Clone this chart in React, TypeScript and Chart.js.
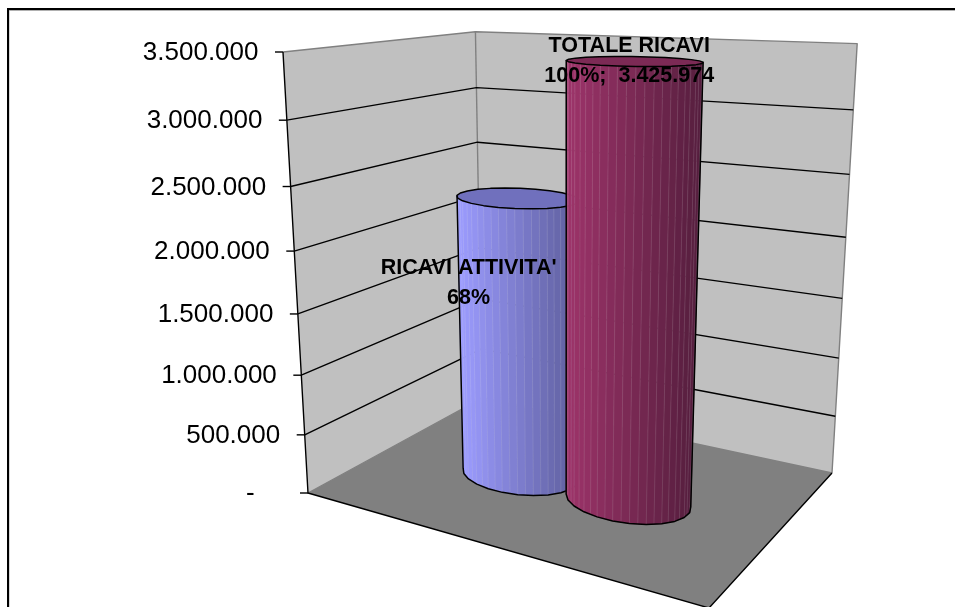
import React, { useEffect, useRef } from "react";
import { Chart, registerables } from "chart.js";

Chart.register(...registerables);

// Values
const categories = [""];
const seriesNames = ["RICAVI ATTIVITA'", "TOTALE RICAVI"];
const ricaviAttivita = [2329662];
const totaleRicavi = [3425974];
const percentLabels = ["68%", "100%"];
const valueLabels = ["", "3.425.974"];
// The zero label carries the accounting format's trailing padding
const tickLabels = ["-    ", "500.000", "1.000.000", "1.500.000", "2.000.000", "2.500.000", "3.000.000", "3.500.000"];
const axisMax = 3500000;
const axisStep = 500000;

// Screen outline of the floor and the direction in which verticals converge
const FRONT_LEFT = [308, 493];
const FRONT_RIGHT = [709, 608];
const BACK_RIGHT = [832, 473];
const BACK_LEFT = [482, 398];
const FRONT_LEFT_TOP = [283, 52];
const VERTICAL_VP = [565, 5024];

const FONT = '"Liberation Sans", Arial, sans-serif';
const CYLINDER_SIDES = 24;
const FACET_STRIPS = 2;
const DEPTH_CENTRE = 0.472;
const WIDTH_SHIFT = 0.0085;

const shades = [
  { light: [156, 156, 255], dark: [92, 92, 153], top: "#7070bd" },
  { light: [158, 52, 106], dark: [86, 30, 62], top: "#7c2a55" },
];
const labelOffsets = [
  { dx: -49, dy: 85 },
  { dx: -4.5, dy: 0 },
];

// Homography of the unit floor square, extended with a height column
function buildProjection() {
  const [x0, y0] = FRONT_LEFT;
  const [x1, y1] = FRONT_RIGHT;
  const [x2, y2] = BACK_RIGHT;
  const [x3, y3] = BACK_LEFT;
  const dx1 = x1 - x2, dx2 = x3 - x2, sx = x0 - x1 + x2 - x3;
  const dy1 = y1 - y2, dy2 = y3 - y2, sy = y0 - y1 + y2 - y3;
  const den = dx1 * dy2 - dx2 * dy1;
  const g = (sx * dy2 - dx2 * sy) / den;
  const h = (dx1 * sy - sx * dy1) / den;
  const a = x1 - x0 + g * x1, b = x3 - x0 + h * x3, c = x0;
  const d = y1 - y0 + g * y1, e = y3 - y0 + h * y3, f = y0;
  const k = (FRONT_LEFT_TOP[1] - y0) / (VERTICAL_VP[1] - FRONT_LEFT_TOP[1]);
  return (u: number, v: number, z: number) => {
    const w = g * u + h * v + 1 + z * k;
    return [
      (a * u + b * v + c + z * k * VERTICAL_VP[0]) / w,
      (d * u + e * v + f + z * k * VERTICAL_VP[1]) / w,
    ];
  };
}
const project = buildProjection();

function polygon(ctx: CanvasRenderingContext2D, pts: number[][], close = true) {
  ctx.beginPath();
  pts.forEach((p, i) => (i ? ctx.lineTo(p[0], p[1]) : ctx.moveTo(p[0], p[1])));
  if (close) ctx.closePath();
}

function drawFrame(ctx: CanvasRenderingContext2D, width: number, height: number) {
  ctx.strokeStyle = "#b0b0b0";
  ctx.lineWidth = 1;
  polygon(ctx, [[9, height], [9, 10.5], [width, 10.5]], false);
  ctx.stroke();
  ctx.strokeStyle = "#000";
  ctx.lineWidth = 2;
  polygon(ctx, [[8, height], [8, 9], [width, 9]], false);
  ctx.stroke();
}

function drawBox(ctx: CanvasRenderingContext2D, ticks: { value: number }[]) {
  const p = project;
  ctx.lineJoin = "round";
  ctx.fillStyle = "#c0c0c0";
  polygon(ctx, [p(0, 0, 0), p(0, 1, 0), p(0, 1, 1), p(0, 0, 1)]);
  ctx.fill();
  polygon(ctx, [p(0, 1, 0), p(1, 1, 0), p(1, 1, 1), p(0, 1, 1)]);
  ctx.fill();
  ctx.fillStyle = "#808080";
  polygon(ctx, [p(0, 0, 0), p(1, 0, 0), p(1, 1, 0), p(0, 1, 0)]);
  ctx.fill();

  // Grey wall edges
  ctx.strokeStyle = "#808080";
  ctx.lineWidth = 1.4;
  polygon(ctx, [p(0, 0, 1), p(0, 1, 1), p(1, 1, 1), p(1, 1, 0)], false);
  ctx.stroke();
  polygon(ctx, [p(0, 1, 0), p(0, 1, 1)], false);
  ctx.stroke();
  polygon(ctx, [p(0, 0, 0), p(0, 1, 0), p(1, 1, 0)], false);
  ctx.stroke();

  // Gridlines run along both walls
  ctx.strokeStyle = "#000";
  ctx.lineWidth = 1.4;
  ticks.forEach((t) => {
    const z = t.value / axisMax;
    if (z <= 0 || z >= 1) return;
    polygon(ctx, [p(0, 0, z), p(0, 1, z), p(1, 1, z)], false);
    ctx.stroke();
  });

  // Value axis, its tick marks and the front floor edges
  polygon(ctx, [p(0, 0, 1), p(0, 0, 0), p(1, 0, 0), p(1, 1, 0)], false);
  ctx.stroke();
  ticks.forEach((t) => {
    const [x, y] = p(0, 0, t.value / axisMax);
    polygon(ctx, [[x - 8, y], [x, y]], false);
    ctx.stroke();
  });
}

function drawTickLabels(ctx: CanvasRenderingContext2D, ticks: { value: number; label: string }[]) {
  ctx.fillStyle = "#000";
  ctx.font = `26px ${FONT}`;
  ctx.textAlign = "right";
  ctx.textBaseline = "middle";
  ticks.forEach((t) => {
    const [x, y] = project(0, 0, t.value / axisMax);
    ctx.fillText(t.label, x - 24.5, y + 1);
  });
}

const mix = (a: number[], b: number[], t: number) =>
  `rgb(${a.map((c, i) => Math.round(c + (b[i] - c) * t)).join(",")})`;
const lerp = (a: number[], b: number[], t: number) => [a[0] + (b[0] - a[0]) * t, a[1] + (b[1] - a[1]) * t];

function drawCylinder(
  ctx: CanvasRenderingContext2D,
  cu: number,
  radius: number,
  z: number,
  shade: { light: number[]; dark: number[]; top: string },
) {
  const bottom: number[][] = [];
  const top: number[][] = [];
  for (let i = 0; i < CYLINDER_SIDES; i++) {
    const a = ((i + 0.5) / CYLINDER_SIDES) * Math.PI * 2;
    const u = cu + radius * Math.cos(a);
    const v = DEPTH_CENTRE + radius * 1.03 * Math.sin(a);
    bottom.push(project(u, v, 0));
    top.push(project(u, v, z));
  }
  const n = CYLINDER_SIDES;
  const faces = bottom.map((b, i) => {
    const j = (i + 1) % n;
    const c = top[j];
    const e = bottom[j];
    return (e[0] - b[0]) * (c[1] - b[1]) - (e[1] - b[1]) * (c[0] - b[0]) < 0;
  });
  const first = faces.findIndex((f, i) => f && !faces[(i - 1 + n) % n]);
  const run: number[] = [];
  for (let i = first; faces[i % n] && run.length < n; i++) run.push(i % n);

  const xs = run.flatMap((i) => [top[i][0], bottom[i][0], top[(i + 1) % n][0], bottom[(i + 1) % n][0]]);
  const minX = Math.min(...xs);
  const maxX = Math.max(...xs);

  // Each facet is filled as narrow strips so the shading steps finely
  const seams: number[][][] = [];
  run.forEach((i) => {
    const j = (i + 1) % n;
    for (let s = 0; s < FACET_STRIPS; s++) {
      const t0 = s / FACET_STRIPS;
      const t1 = (s + 1) / FACET_STRIPS;
      const b0 = lerp(bottom[i], bottom[j], t0);
      const b1 = lerp(bottom[i], bottom[j], t1);
      const c0 = lerp(top[i], top[j], t0);
      const c1 = lerp(top[i], top[j], t1);
      const t = ((c0[0] + c1[0]) / 2 - minX) / (maxX - minX);
      const color = mix(shade.light, shade.dark, t);
      ctx.fillStyle = color;
      ctx.strokeStyle = color;
      ctx.lineWidth = 0.6;
      polygon(ctx, [b0, b1, c1, c0]);
      ctx.fill();
      ctx.stroke();
      if (i !== run[0] || s > 0) seams.push([b0, c0]);
    }
  });
  ctx.strokeStyle = "rgba(255,255,255,0.14)";
  ctx.lineWidth = 0.8;
  seams.forEach((line) => {
    polygon(ctx, line, false);
    ctx.stroke();
  });

  // Outline of the side, then the cap
  const last = (run[run.length - 1] + 1) % n;
  const outline = [top[run[0]], ...run.map((i) => bottom[i]), bottom[last], top[last]];
  ctx.strokeStyle = "#000";
  ctx.lineWidth = 1.5;
  polygon(ctx, outline, false);
  ctx.stroke();
  ctx.fillStyle = shade.top;
  polygon(ctx, top);
  ctx.fill();
  ctx.stroke();
}

const cylinderPlugin = {
  id: "cylinders3d",
  beforeDraw(chart: any) {
    drawFrame(chart.ctx, chart.width, chart.height);
  },
  // The bars are rendered as perspective cylinders from their element geometry
  beforeDatasetsDraw(chart: any) {
    const { ctx, chartArea: area, scales } = chart;
    ctx.save();
    drawBox(ctx, scales.y.ticks);
    drawTickLabels(ctx, scales.y.ticks);
    const bars = chart.data.datasets.map((_: unknown, i: number) => chart.getDatasetMeta(i).data[0]);
    const geometry = bars.map((el: any) => ({
      u: (el.x - area.left) / area.width + WIDTH_SHIFT,
      r: el.width / area.width / 2,
      z: (area.bottom - el.y) / area.height,
    }));
    geometry.forEach((g: any, i: number) => drawCylinder(ctx, g.u, g.r, g.z, shades[i]));

    ctx.fillStyle = "#000";
    ctx.font = `bold 21.5px ${FONT}`;
    ctx.textAlign = "center";
    ctx.textBaseline = "middle";
    geometry.forEach((g: any, i: number) => {
      const [x, y] = project(g.u, DEPTH_CENTRE, g.z);
      const cx = x + labelOffsets[i].dx;
      const cy = y + labelOffsets[i].dy;
      const second = valueLabels[i] ? `${percentLabels[i]};  ${valueLabels[i]}` : percentLabels[i];
      ctx.fillText(seriesNames[i], cx, cy - 15);
      ctx.fillText(second, cx, cy + 15);
    });
    ctx.restore();
    return false;
  },
};

export default function App() {
  const ref = useRef<HTMLCanvasElement>(null);
  useEffect(() => {
    document.body.style.margin = "0";
    const chart = new Chart(ref.current as HTMLCanvasElement, {
      type: "bar",
      data: {
        labels: categories,
        datasets: [
          { label: seriesNames[0], data: ricaviAttivita, backgroundColor: "#9999ff" },
          { label: seriesNames[1], data: totaleRicavi, backgroundColor: "#993366" },
        ],
      },
      options: {
        responsive: false,
        animation: false,
        layout: { padding: 0 },
        plugins: { legend: { display: false }, tooltip: { enabled: false } },
        datasets: { bar: { categoryPercentage: 0.574, barPercentage: 1.03 } },
        scales: {
          x: { display: false },
          y: {
            display: false,
            min: 0,
            max: axisMax,
            ticks: {
              stepSize: axisStep,
              autoSkip: false,
              callback: (_v: unknown, i: number) => tickLabels[i],
            },
          },
        },
      },
      plugins: [cylinderPlugin],
    } as any);
    return () => chart.destroy();
  }, []);
  return <canvas ref={ref} width={955} height={607} style={{ display: "block" }} />;
}
